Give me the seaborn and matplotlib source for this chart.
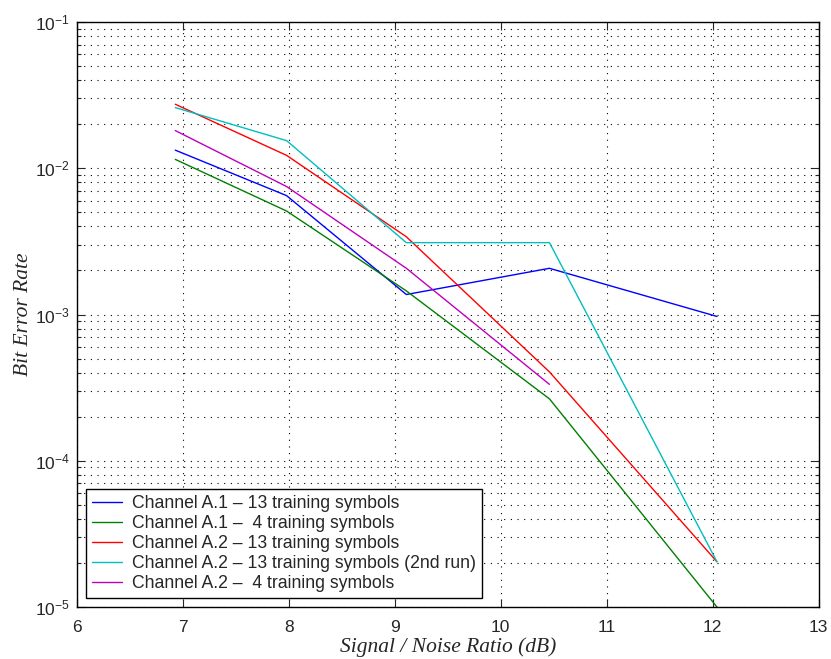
import numpy as np
import pandas as pd
import seaborn as sns
import matplotlib
matplotlib.use("Agg")
import matplotlib.pyplot as plt
from matplotlib.ticker import LogLocator, FixedLocator

# Signal-to-noise ratios (dB) at which each configuration was measured
snr = [6.93, 7.98, 9.11, 10.46, 12.04]

# Bit error rate per configuration
ber_a1_13 = [0.0133, 0.0065, 0.00137, 0.00207, 0.00097]
ber_a1_4 = [0.0115, 0.0051, 0.00145, 0.000265, 0.00001]
ber_a2_13 = [0.0274, 0.01225, 0.0034, 0.000405, 0.0000204]
ber_a2_13b = [0.0260, 0.01545, 0.0031, 0.0031, 0.0000204]
ber_a2_4 = [0.0181, 0.0075, 0.00207, 0.000333]

labels = [
    "Channel A.1 \u2013 13 training symbols",
    "Channel A.1 \u2013  4 training symbols",
    "Channel A.2 \u2013 13 training symbols",
    "Channel A.2 \u2013 13 training symbols (2nd run)",
    "Channel A.2 \u2013  4 training symbols",
]
colors = ["#0000ff", "#008000", "#ff0000", "#00bfbf", "#bf00bf"]

series = [ber_a1_13, ber_a1_4, ber_a2_13, ber_a2_13b, ber_a2_4]
frames = []
for lab, vals in zip(labels, series):
    frames.append(pd.DataFrame({"snr": snr[:len(vals)], "ber": vals, "series": lab}))
df = pd.concat(frames, ignore_index=True)

sns.set_style("ticks")
plt.rcParams["font.family"] = ["Liberation Sans", "DejaVu Sans"]
plt.rcParams["mathtext.fontset"] = "custom"
plt.rcParams["mathtext.rm"] = "Liberation Sans"
plt.rcParams["mathtext.it"] = "Liberation Sans:italic"

fig = plt.figure(figsize=(8.31, 6.59), dpi=100)
ax = fig.add_axes([0.0923, 0.0789, 0.8929, 0.8877])

sns.lineplot(data=df, x="snr", y="ber", hue="series", hue_order=labels,
             palette=colors, sort=False, estimator=None, linewidth=1.0, ax=ax)

ax.set_yscale("log")
ax.set_xlim(6, 13)
ax.set_ylim(1e-5, 1e-1)
ax.xaxis.set_major_locator(FixedLocator(range(6, 14)))
ax.yaxis.set_major_locator(LogLocator(base=10, numticks=10))
ax.yaxis.set_minor_locator(LogLocator(base=10, subs=np.arange(2, 10), numticks=20))

ax.grid(True, which="major", axis="both", linestyle=(0, (1, 5)), color="k", linewidth=0.8)
ax.yaxis.grid(True, which="minor", linestyle=(0, (1, 5)), color="k", linewidth=0.8)

ax.tick_params(which="both", direction="in", top=True, right=True, labelsize=12.5)
ax.tick_params(axis="x", pad=9)
ax.tick_params(axis="y", pad=5)
ax.tick_params(which="major", length=6, width=0.8)
ax.tick_params(which="minor", length=3, width=0.8)
for sp in ax.spines.values():
    sp.set_color("black")
    sp.set_linewidth(1.0)

ax.set_xlabel("Signal / Noise Ratio (dB)", fontsize=15.5, fontstyle="italic",
              family=["Liberation Serif"], labelpad=2)
ax.set_ylabel("Bit Error Rate", fontsize=15.5, fontstyle="italic",
              family=["Liberation Serif"], labelpad=1)

leg = ax.legend(loc="lower left", fontsize=12.7, frameon=True, fancybox=False,
                edgecolor="black", framealpha=1, borderaxespad=0.5,
                handlelength=1.7, handletextpad=0.6, borderpad=0.35,
                labelspacing=0.17)
leg.get_frame().set_linewidth(1.0)

fig.savefig("out.png", dpi=100)
